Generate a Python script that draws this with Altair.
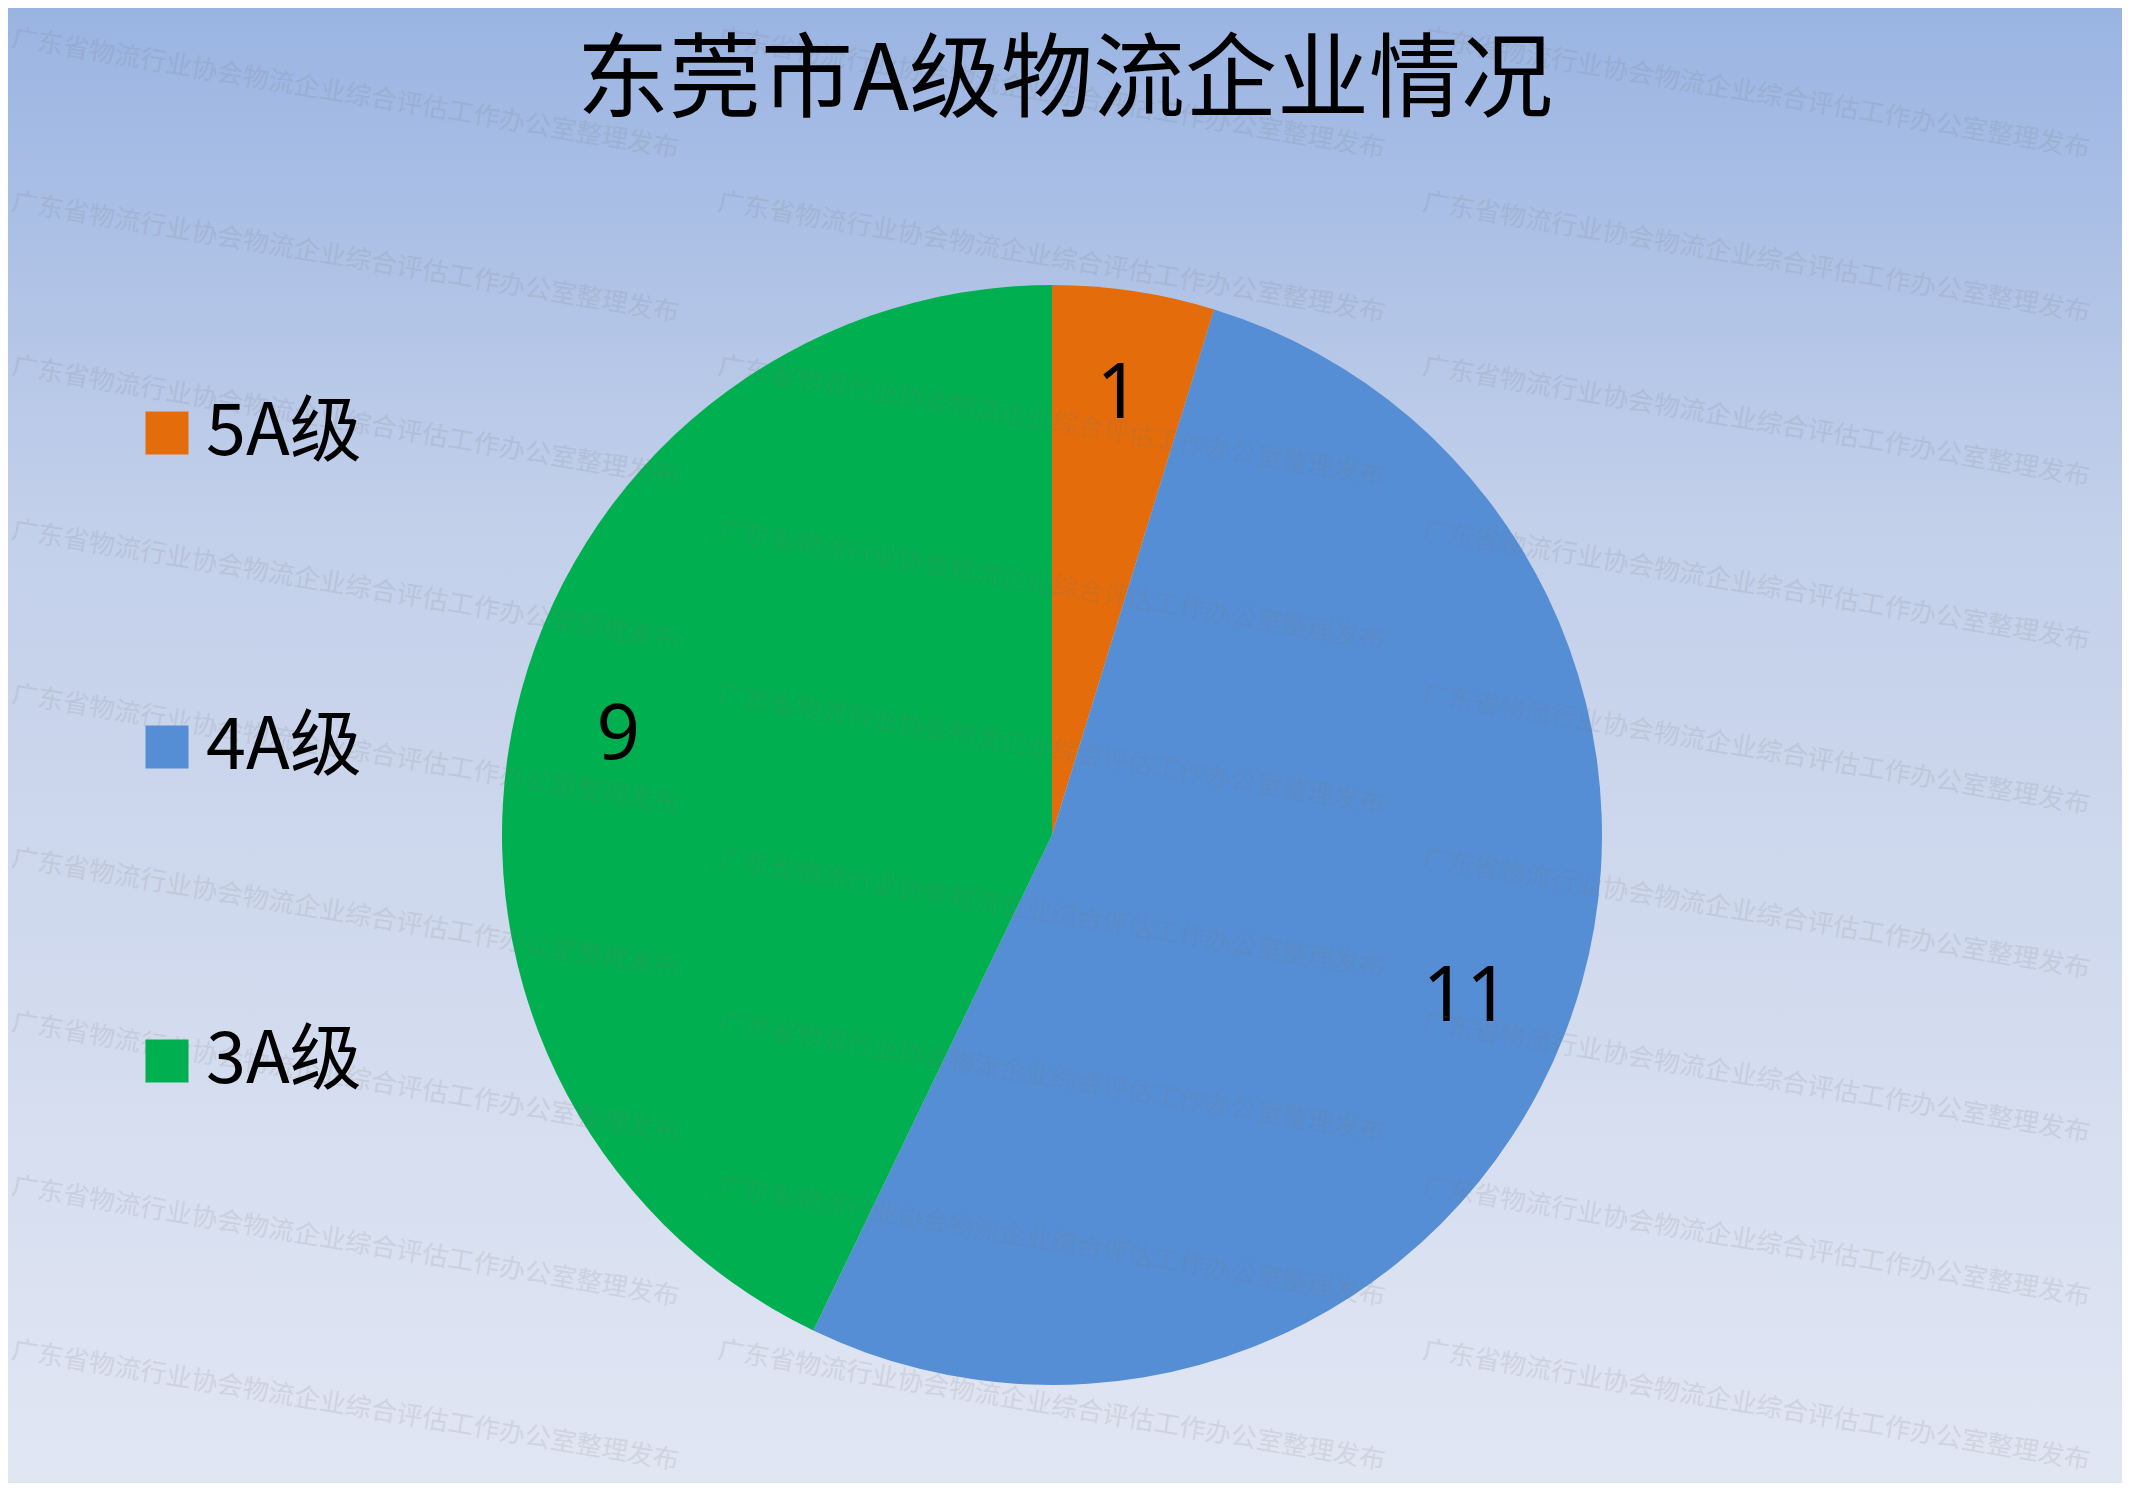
import altair as alt
import pandas as pd

# ---- data ----
categories = ["5A级", "4A级", "3A级"]
counts = [1, 11, 9]
colors = ["#E46C0A", "#558ED5", "#00B050"]
title_text = "东莞市A级物流企业情况"
watermark_text = "广东省物流行业协会物流企业综合评估工作办公室整理发布"

W, H = 2114, 1475
CX, CY, R = 1044, 827, 550
FONT = "Noto Sans CJK SC"

df = pd.DataFrame({"cat": categories, "value": counts, "order": list(range(len(categories)))})

# background gradient
bg = alt.Chart(pd.DataFrame({"a": [0]})).mark_rect(
    color=alt.Gradient(
        gradient="linear",
        stops=[
            alt.GradientStop(color="#9AB4E2", offset=0),
            alt.GradientStop(color="#C3D0EA", offset=0.35),
            alt.GradientStop(color="#E1E6F3", offset=1),
        ],
        x1=0, x2=0, y1=0, y2=1,
    )
).encode(x=alt.value(0), x2=alt.value(W), y=alt.value(0), y2=alt.value(H))

color_enc = alt.Color(
    "cat:N",
    scale=alt.Scale(domain=categories, range=colors),
    sort=categories,
    legend=alt.Legend(
        title=None,
        orient="none",
        legendX=123,
        legendY=389,
        symbolType="square",
        symbolSize=1849,
        symbolStrokeWidth=0,
        labelFontSize=72,
        labelFont=FONT,
        labelColor="#000000",
        labelOffset=3,
        labelLimit=500,
        rowPadding=242,
        padding=0,
    ),
)

pie = alt.Chart(df).mark_arc(radius=R, stroke=None).encode(
    theta=alt.Theta("value:Q", stack=True),
    color=color_enc,
    order=alt.Order("order:Q"),
    x=alt.value(CX),
    y=alt.value(CY),
)

labels = alt.Chart(df).mark_text(
    radius=445, fontSize=76, font="Noto Sans", color="#000000", align="center", baseline="middle"
).encode(
    theta=alt.Theta("value:Q", stack=True),
    order=alt.Order("order:Q"),
    text=alt.Text("value:Q"),
    x=alt.value(CX),
    y=alt.value(CY),
)

# watermark grid (decoration)
wm_cols = [4, 710, 1415]
wm_rows = []
for i in range(9):
    for cx in wm_cols:
        wm_rows.append({"px": cx, "py": 30 + 164 * i, "t": watermark_text})
wm_df = pd.DataFrame(wm_rows)
watermark = alt.Chart(wm_df).mark_text(
    angle=9.5, fontSize=26, font=FONT, color="#7a7a7a", opacity=0.15, align="left", baseline="middle"
).encode(
    x=alt.X("px:Q", scale=None),
    y=alt.Y("py:Q", scale=None),
    text="t:N",
)

title = alt.Chart(pd.DataFrame({"t": [title_text]})).mark_text(
    fontSize=92, font=FONT, color="#000000", align="center", baseline="middle"
).encode(x=alt.value(1057), y=alt.value(74), text="t:N")

chart = alt.layer(bg, pie, labels, watermark, title).properties(
    width=W, height=H, padding=0, autosize=alt.AutoSizeParams(type="none")
).configure_view(stroke=None)

chart.save("out.html", embed_options={"renderer": "svg", "actions": False})
